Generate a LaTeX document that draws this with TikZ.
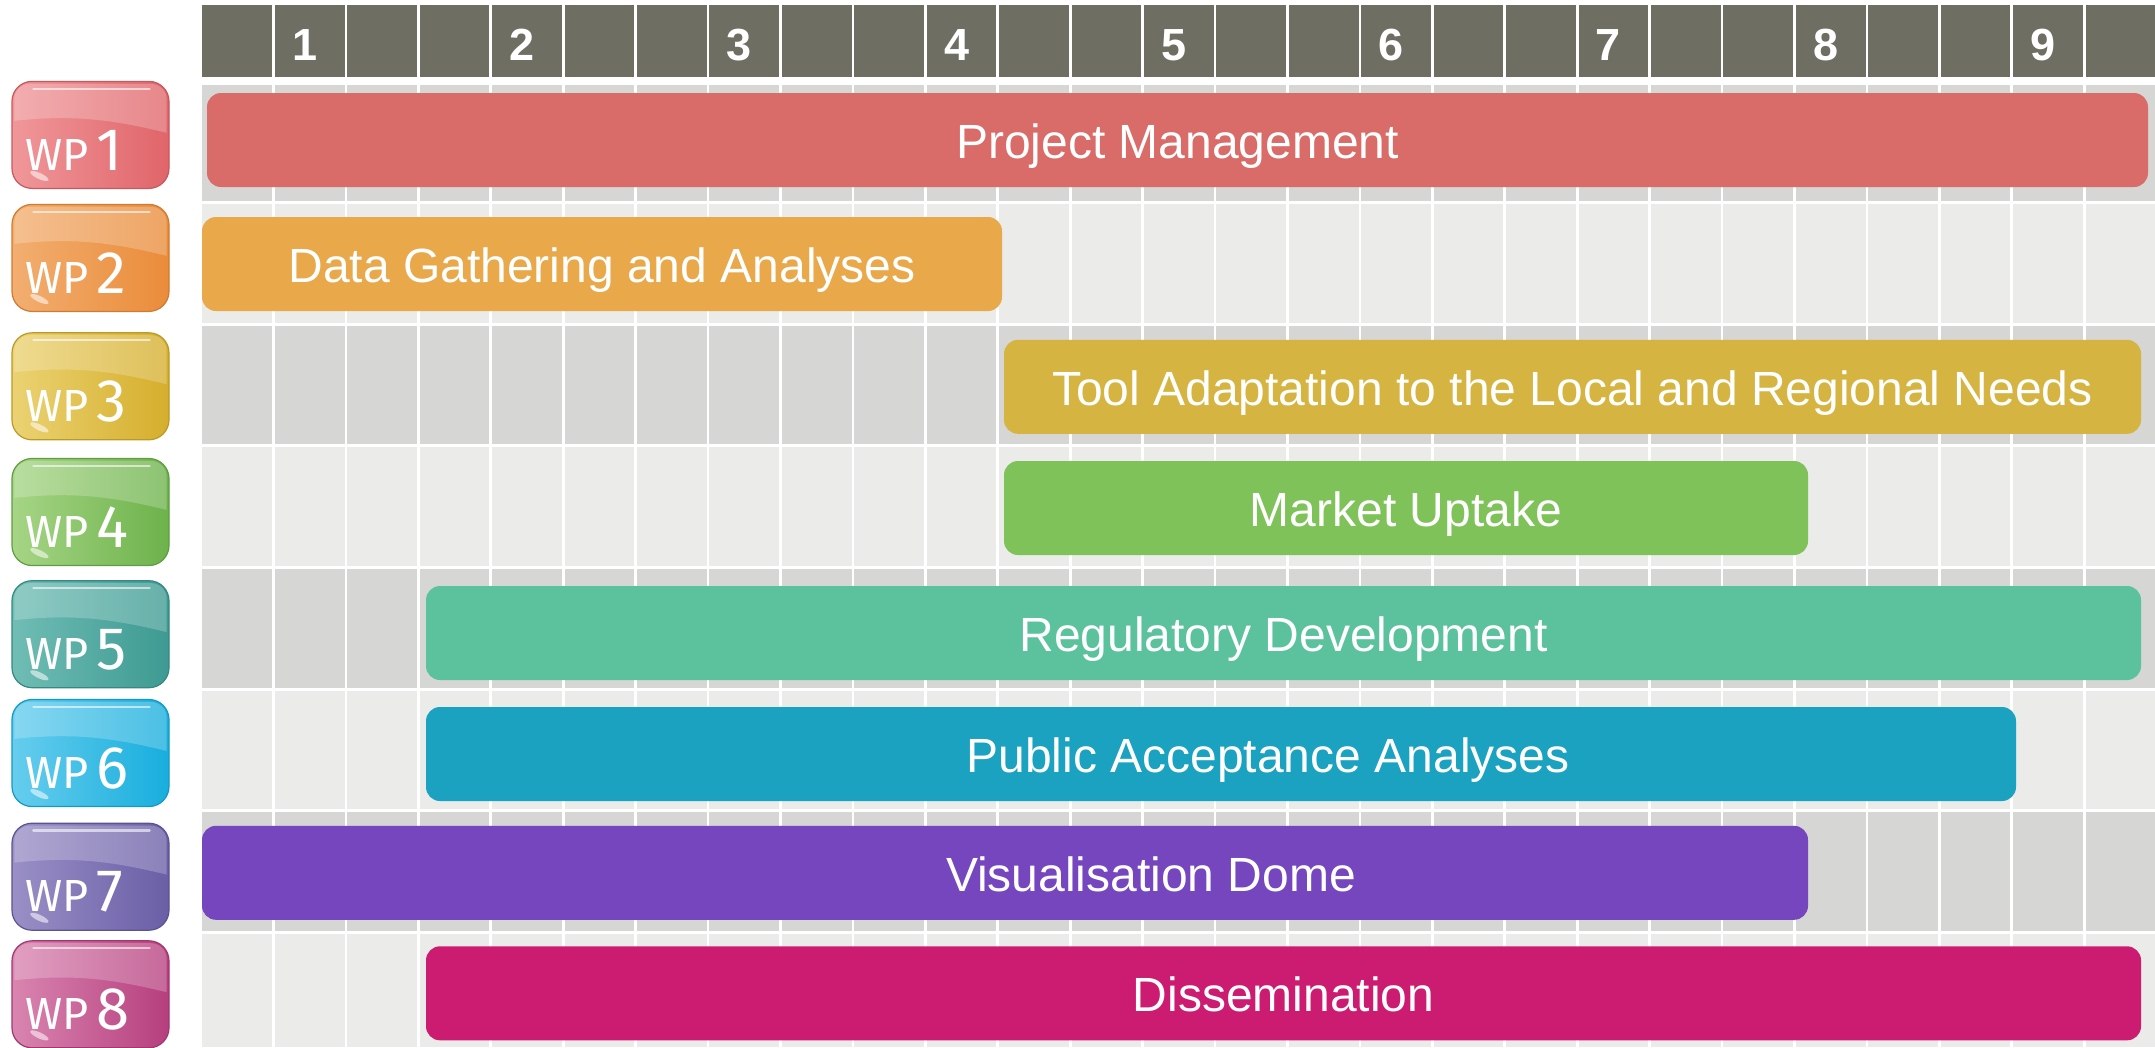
\documentclass[tikz,border=0pt]{standalone}
\usepackage{fontspec}
\setmainfont{Liberation Sans}
\newfontfamily\badgefont{Fira Sans}
\usetikzlibrary{calc}

% grid and header
\definecolor{headgray}{HTML}{6F6E62}
\definecolor{rowdark}{HTML}{D6D6D4}
\definecolor{rowlight}{HTML}{EBEBE9}
% work package bars
\definecolor{barA}{HTML}{D96B69}
\definecolor{barB}{HTML}{E9A84A}
\definecolor{barC}{HTML}{D5B441}
\definecolor{barD}{HTML}{7FC25A}
\definecolor{barE}{HTML}{5CC29E}
\definecolor{barF}{HTML}{1BA2C0}
\definecolor{barG}{HTML}{7646BF}
\definecolor{barH}{HTML}{CC1C71}
% glossy badge colours (light / dark)
\definecolor{bgAl}{HTML}{F0979A}\definecolor{bgAd}{HTML}{E0656A}
\definecolor{bgBl}{HTML}{F2AE70}\definecolor{bgBd}{HTML}{EA8C3A}
\definecolor{bgCl}{HTML}{EBD272}\definecolor{bgCd}{HTML}{D5AE2C}
\definecolor{bgDl}{HTML}{A6D585}\definecolor{bgDd}{HTML}{6DB24B}
\definecolor{bgEl}{HTML}{70BDB5}\definecolor{bgEd}{HTML}{3D9A92}
\definecolor{bgFl}{HTML}{66CDEE}\definecolor{bgFd}{HTML}{18AEDD}
\definecolor{bgGl}{HTML}{9A90C6}\definecolor{bgGd}{HTML}{6A5EA6}
\definecolor{bgHl}{HTML}{D985B0}\definecolor{bgHd}{HTML}{B63F7E}

\tikzset{
  wpbar/.style={rectangle, rounded corners=14pt, inner sep=0pt, text=white,
    font=\fontsize{48}{58}\selectfont, text height=40pt, text depth=3pt},
  badge/.style={rectangle, rounded corners=20pt, minimum width=157pt,
    minimum height=107pt, inner sep=0pt, line width=1.2pt},
  badgetext/.style={anchor=base west, inner sep=0pt, text=white,
    font=\badgefont\fontsize{45}{45}\selectfont},
  monthnum/.style={anchor=base, inner sep=0pt, text=white,
    font=\bfseries\fontsize{45}{54}\selectfont},
  gridline/.style={white, line width=2.7pt},
  rowline/.style={white, line width=3pt},
}

\begin{document}
\begin{tikzpicture}[x=1pt, y=-1pt]
\useasboundingbox (0,0) rectangle (2155,1047);
\fill[white] (0,0) rectangle (2155,1047);

% header band
\fill[headgray] (202,5) rectangle (2155,77);

% row backgrounds
\fill[rowlight] (202,85) rectangle (2155,1047);
\fill[rowdark] (202,85) rectangle (2155,202.7);
\foreach \k in {1,3,5}
  \fill[rowdark] (202,{202.7+121.6*\k}) rectangle (2155,{202.7+121.6*(\k+1)});

% white cell separators
\foreach \i in {1,...,26}
  \draw[gridline] ({201.07+72.43*\i},5) -- ({201.07+72.43*\i},1047);
\foreach \k in {0,...,6}
  \draw[rowline] (202,{202.7+121.6*\k}) -- (2155,{202.7+121.6*\k});

% quarter numbers
\foreach \n in {1,...,9}
  \node[monthnum] (q\n) at ({87.4+217.29*\n},60) {\n};

% work package bars
\node[wpbar, fill=barA, minimum width=1941pt, minimum height=94pt] (wp1bar) at (1177.5,140) {Project Management};
\node[wpbar, fill=barB, minimum width=800pt, minimum height=94pt] (wp2bar) at (602,264) {Data Gathering and Analyses};
\node[wpbar, fill=barC, minimum width=1137pt, minimum height=94pt] (wp3bar) at (1572.5,386.8) {Tool Adaptation to the Local and Regional Needs};
\node[wpbar, fill=barD, minimum width=804pt, minimum height=94pt] (wp4bar) at (1406,508) {Market Uptake};
\node[wpbar, fill=barE, minimum width=1715pt, minimum height=94pt] (wp5bar) at (1283.5,633) {Regulatory Development};
\node[wpbar, fill=barF, minimum width=1590pt, minimum height=94pt] (wp6bar) at (1221,754) {\hspace*{94pt}Public Acceptance Analyses};
\node[wpbar, fill=barG, minimum width=1606pt, minimum height=94pt] (wp7bar) at (1005,872.8) {\hspace*{292pt}Visualisation Dome};
\node[wpbar, fill=barH, minimum width=1715pt, minimum height=94pt] (wp8bar) at (1283.5,993.3) {Dissemination};

% glossy WP badges
\foreach \n/\cy/\lc/\dc in {1/134.9/bgAl/bgAd, 2/257.9/bgBl/bgBd, 3/386.3/bgCl/bgCd,
    4/512/bgDl/bgDd, 5/634.2/bgEl/bgEd, 6/753/bgFl/bgFd, 7/876.7/bgGl/bgGd, 8/994.3/bgHl/bgHd}{
  \node[badge, left color=\lc, right color=\dc, draw=\dc!88!black] (wp\n) at (90.5,\cy) {};
  % upper sheen
  \fill[white, opacity=0.22]
    ($(wp\n.north west)+(3,18)$) to[out=90,in=180] ($(wp\n.north west)+(19,3)$)
    -- ($(wp\n.north east)+(-19,3)$) to[out=0,in=90] ($(wp\n.north east)+(-3,18)$)
    -- ($(wp\n.north east)+(-3,52)$)
    .. controls ($(wp\n.north east)+(-60,38)$) and ($(wp\n.north west)+(60,34)$) .. ($(wp\n.north west)+(3,40)$)
    -- cycle;
  % top glint
  \draw[white, opacity=0.6, line width=2.5pt, line cap=round]
    ($(wp\n.north west)+(22,8)$) -- ($(wp\n.north east)+(-20,8)$);
  % lower left glint
  \fill[white, opacity=0.55, shift={($(wp\n.south west)+(28,-13)$)}, rotate=-25]
    (0,0) ellipse (10pt and 3pt);
  \node[badgetext] (wp\n txt) at ($(wp\n.south west)+(14,-19)$)
    {WP\hspace{8pt}{\fontsize{60}{60}\selectfont\n}};
}
\end{tikzpicture}
\end{document}
